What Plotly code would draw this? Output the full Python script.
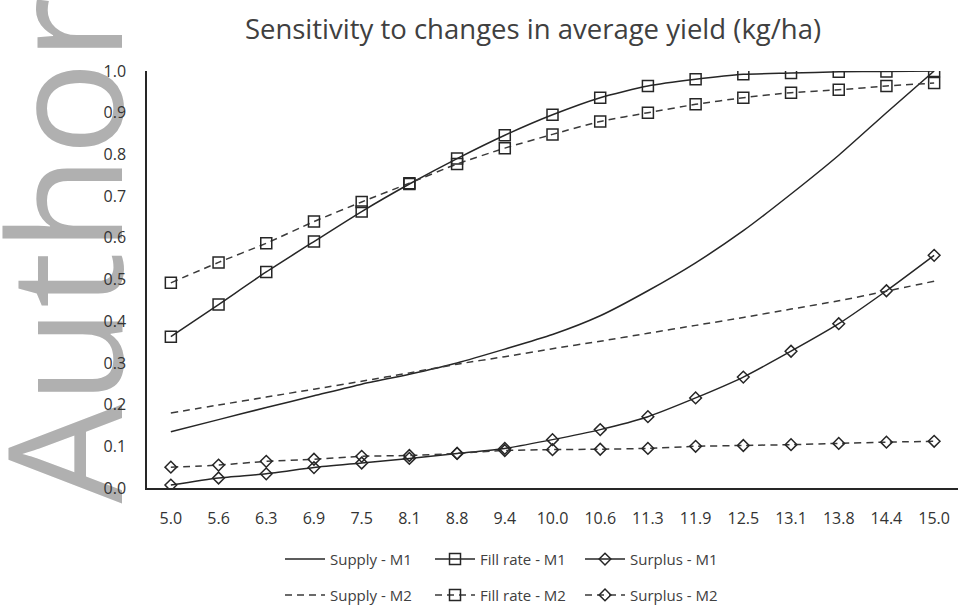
import plotly.graph_objects as go

# Average yield categories (kg/ha)
yields = ['5.0', '5.6', '6.3', '6.9', '7.5', '8.1', '8.8', '9.4', '10.0',
          '10.6', '11.3', '11.9', '12.5', '13.1', '13.8', '14.4', '15.0']

supply_m1 = [0.135, 0.164, 0.193, 0.221, 0.249, 0.273, 0.300, 0.333, 0.368,
             0.413, 0.473, 0.540, 0.617, 0.705, 0.798, 0.900, 1.000]
fill_m1 = [0.363, 0.440, 0.518, 0.591, 0.663, 0.729, 0.790, 0.846, 0.895,
           0.936, 0.964, 0.980, 0.992, 0.995, 0.998, 0.999, 1.000]
surplus_m1 = [0.007, 0.024, 0.034, 0.049, 0.060, 0.071, 0.083, 0.095, 0.116,
              0.140, 0.171, 0.216, 0.266, 0.328, 0.394, 0.473, 0.558]

supply_m2 = [0.180, 0.199, 0.218, 0.237, 0.256, 0.276, 0.297, 0.315, 0.334,
             0.352, 0.371, 0.390, 0.409, 0.429, 0.449, 0.472, 0.496]
fill_m2 = [0.492, 0.541, 0.587, 0.639, 0.686, 0.731, 0.777, 0.815, 0.848,
           0.879, 0.900, 0.920, 0.936, 0.948, 0.955, 0.964, 0.971]
surplus_m2 = [0.050, 0.055, 0.064, 0.069, 0.076, 0.078, 0.083, 0.090, 0.092,
              0.093, 0.095, 0.100, 0.102, 0.104, 0.107, 0.110, 0.112]

ink = '#262626'
dash = '7px,5px'
marker_size = {'square-open': 11, 'diamond-open': 9}

fig = go.Figure()

def add(name, y, dashed, symbol, legend):
    line = dict(color=ink if not dashed else '#3a3a3a', width=1.5,
                dash=dash if dashed else 'solid', shape='spline', smoothing=0.6)
    if symbol:
        fig.add_trace(go.Scatter(x=yields, y=y, name=name, mode='lines+markers',
                                 line=line, legend=legend,
                                 marker=dict(symbol=symbol, size=marker_size[symbol],
                                             color=ink, line=dict(width=1.5, color=ink))))
    else:
        fig.add_trace(go.Scatter(x=yields, y=y, name=name, mode='lines',
                                 line=line, legend=legend))

add('Supply - M1', supply_m1, False, None, 'legend')
add('Fill rate - M1', fill_m1, False, 'square-open', 'legend')
add('Surplus - M1', surplus_m1, False, 'diamond-open', 'legend')
add('Supply - M2', supply_m2, True, None, 'legend2')
add('Fill rate - M2', fill_m2, True, 'square-open', 'legend2')
add('Surplus - M2', surplus_m2, True, 'diamond-open', 'legend2')

legend_style = dict(orientation='h', xanchor='left', x=0.164, yanchor='middle',
                    font=dict(family='Open Sans', size=15, color='#404040'),
                    bgcolor='rgba(0,0,0,0)', entrywidth=95, entrywidthmode='pixels',
                    itemwidth=40, traceorder='normal')

fig.update_layout(
    width=958, height=612,
    margin=dict(l=147, r=0, t=71, b=120),
    paper_bgcolor='white', plot_bgcolor='white',
    font=dict(family='Open Sans', color='#404040'),
    title=dict(text='Sensitivity to changes in average yield (kg/ha)',
               x=533 / 958, xanchor='center', y=0.952, yanchor='middle',
               font=dict(family='Open Sans', size=27.5, color='#404040')),
    xaxis=dict(type='category', range=[-0.5, 16.5], showgrid=False,
               showline=True, linecolor=ink, linewidth=1.5,
               ticks='outside', ticklen=15, tickcolor='rgba(0,0,0,0)',
               tickfont=dict(family='Open Sans', size=16, color='#333333')),
    yaxis=dict(range=[0, 1], dtick=0.1, tickformat='.1f', showgrid=False,
               zeroline=False, showline=True, linecolor=ink, linewidth=1.5,
               ticks='outside', ticklen=16, tickcolor='rgba(0,0,0,0)',
               tickfont=dict(family='Open Sans', size=16, color='#333333')),
    legend=dict(legend_style, y=-0.171),
    legend2=dict(legend_style, y=-0.257),
    shapes=[dict(type='rect', xref='paper', yref='paper', layer='below',
                 x0=-0.176, x1=-0.008, y0=-0.02, y1=1.16,
                 line=dict(width=0), fillcolor='rgba(0,0,0,0)',
                 label=dict(text='Author', textangle=-90, textposition='middle center',
                            font=dict(family='Open Sans', size=157, color='#b0b0b0')))],
)

fig.write_html('out.html', config={'displayModeBar': False},
               post_script="document.body.style.margin='0';")
